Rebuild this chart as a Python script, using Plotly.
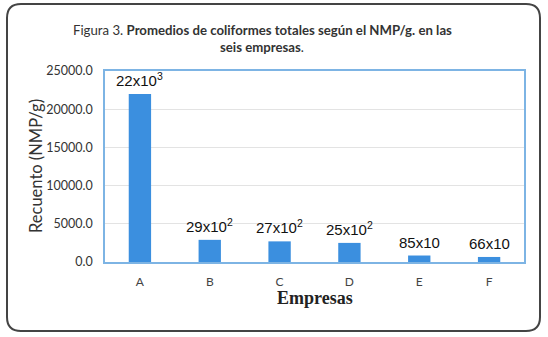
import plotly.graph_objects as go

categories = ["A", "B", "C", "D", "E", "F"]
values = [22000, 2900, 2700, 2500, 850, 660]
labels = ["22x10<sup>3</sup>", "29x10<sup>2</sup>", "27x10<sup>2</sup>",
          "25x10<sup>2</sup>", "85x10", "66x10"]
y_ticks = [0, 5000, 10000, 15000, 20000, 25000]

W, H = 548, 337
L, R, T, B = 105, 24, 71, 75
pw, ph = W - L - R, H - T - B

def px(x):
    return (x - L) / pw

def py(y):
    return (H - B - y) / ph

fig = go.Figure()
fig.add_trace(go.Bar(x=categories, y=values, marker_color="#3b8fdf",
                     marker_line_width=0, width=0.32))

for c, v, t in zip(categories, values, labels):
    fig.add_annotation(x=c, y=v, text=t, showarrow=False, yanchor="bottom",
                       yshift=3, font=dict(family="Liberation Sans", size=15, color="#111"))

# rounded outer border
x0, x1, y0, y1, r = 7, 540, 4, 331, 14
path = (f"M {px(x0+r)},{py(y0)} L {px(x1-r)},{py(y0)} Q {px(x1)},{py(y0)} {px(x1)},{py(y0+r)} "
        f"L {px(x1)},{py(y1-r)} Q {px(x1)},{py(y1)} {px(x1-r)},{py(y1)} "
        f"L {px(x0+r)},{py(y1)} Q {px(x0)},{py(y1)} {px(x0)},{py(y1-r)} "
        f"L {px(x0)},{py(y0+r)} Q {px(x0)},{py(y0)} {px(x0+r)},{py(y0)} Z")
fig.add_shape(type="path", path=path, xref="paper", yref="paper",
              line=dict(color="#444", width=2))

def txt(x, y, text, font, **kw):
    fig.add_annotation(x=px(x), y=py(y), xref="paper", yref="paper", showarrow=False,
                       xanchor="center", yanchor="middle", text=text, font=font, **kw)

title_font = dict(family="Lato", size=13.2, color="#333")
txt(262, 30, "Figura 3. <b>Promedios de coliformes totales según el NMP/g. en las</b>", title_font)
txt(262, 47, "<b>seis empresas</b>.", title_font)
txt(36, 166, "Recuento (NMP/g)", dict(family="Lato", size=16.5, color="#333"), textangle=-90)
txt(315, 298, "<b>Empresas</b>", dict(family="Liberation Serif", size=18, color="#222"))

fig.update_layout(
    width=W, height=H, margin=dict(l=L, r=R, t=T, b=B),
    paper_bgcolor="white", plot_bgcolor="white", showlegend=False,
    xaxis=dict(showline=True, mirror=True, linecolor="#7db4e4", linewidth=1.5,
               ticks="", ticklabelstandoff=8,
               tickfont=dict(family="Lato", size=12, color="#444"),
               fixedrange=True),
    yaxis=dict(range=[0, 25000], tickvals=y_ticks, tickformat=".1f",
               showline=True, mirror=True, linecolor="#7db4e4", linewidth=1.5,
               gridcolor="#e3e3e3", zeroline=False, ticks="", ticklabelstandoff=8,
               tickfont=dict(family="Lato", size=12.5, color="#333")),
)
fig.write_html("out.html", config={"displayModeBar": False},
               post_script="document.body.style.margin='0';")
